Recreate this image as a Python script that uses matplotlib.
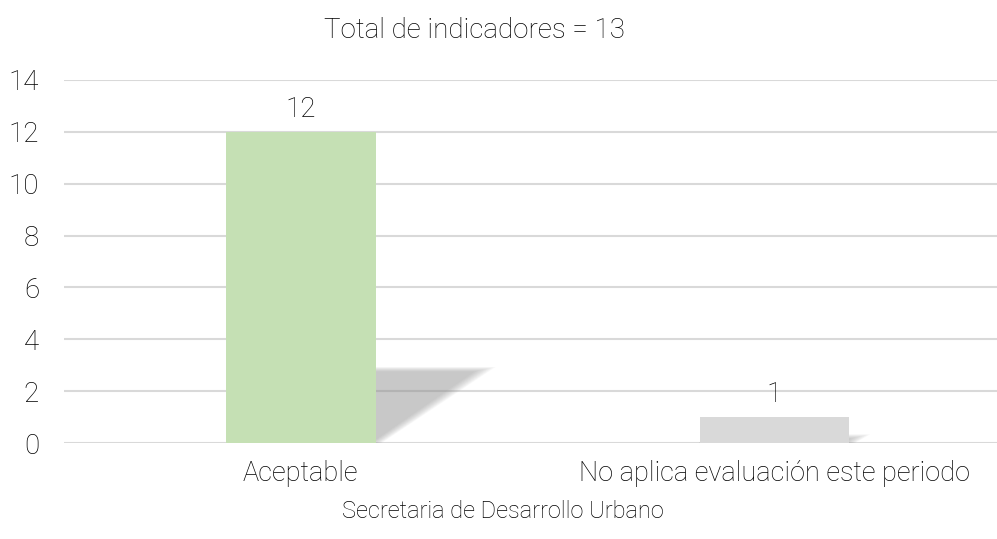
import matplotlib.pyplot as plt
import numpy as np
from matplotlib.patches import Polygon

categories = ['Aceptable', 'No aplica evaluación este periodo']
values = [12, 1]
bar_colors = ['#C5E0B4', '#D9D9D9']
title = 'Total de indicadores = 13'
xlabel = 'Secretaria de Desarrollo Urbano'
yticks = [0, 2, 4, 6, 8, 10, 12, 14]

plt.rcParams['font.family'] = ['Roboto', 'DejaVu Sans']
text_color = '#000000'
fs = 20

fig = plt.figure(figsize=(9.97, 5.39), dpi=100)
ax = fig.add_axes([64 / 997, 96 / 539, 933 / 997, 363 / 539])

x = np.arange(len(categories))
width = 0.316
bars = ax.bar(x, values, width=width, color=bar_colors, zorder=3)

# perspective shadow behind each bar (sheared copy, soft edges)
shear_x, shear_y = 0.019, 0.236
for xi, v in zip(x, values):
    x0, x1 = xi - width / 2, xi + width / 2
    dx, dy = v * shear_x, v * shear_y
    for k in range(10):
        g = (k - 4) * 0.005
        poly = Polygon([(x0, 0), (x1 + g * 0.5, 0), (x1 + dx + g, dy + g * 4),
                        (x0 + dx, dy + g * 4)],
                       closed=True, facecolor='#8c8c8c', edgecolor='none',
                       alpha=0.06, zorder=2)
        ax.add_patch(poly)

for b, v in zip(bars, values):
    ax.text(b.get_x() + b.get_width() / 2, v + 0.35, str(v), ha='center',
            va='bottom', fontsize=fs, color=text_color, fontweight='light')

ax.set_xlim(-0.5, 1.47)
ax.set_ylim(0, 14)
ax.set_yticks(yticks)
ax.set_xticks(x)
ax.set_xticklabels(categories)
ax.grid(axis='y', color='#D9D9D9', linewidth=1.5, zorder=0)
ax.set_axisbelow(True)
for s in ax.spines.values():
    s.set_visible(False)
ax.tick_params(length=0, labelsize=fs, colors=text_color, pad=12)
ax.tick_params(axis='y', pad=18)
for lab in ax.get_xticklabels():
    lab.set_fontweight('light')
    lab.set_fontsize(19.5)
for lab in ax.get_yticklabels():
    lab.set_fontweight('light')

ax.set_xlabel(xlabel, fontsize=17, color=text_color, fontweight='light')
ax.xaxis.set_label_coords((503 - 64) / 933, -0.157)
fig.text(474 / 997, 1 - 30 / 539, title, ha='center', va='center',
         fontsize=fs, color=text_color, fontweight='light')

fig.savefig('out.png', dpi=100)
